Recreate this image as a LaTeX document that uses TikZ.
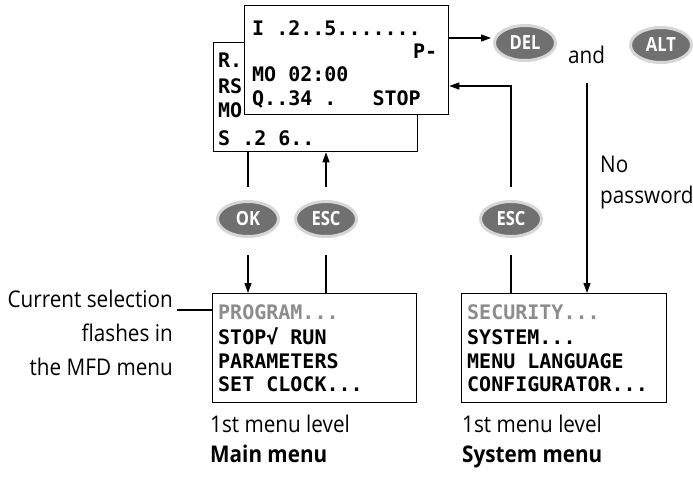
\documentclass[tikz,border=0pt]{standalone}
\usepackage{fontspec}
\setmainfont[FakeStretch=0.9]{Open Sans}
\newfontfamily\keyfont[FakeStretch=0.85]{Open Sans}
\newfontfamily\lcdfont{DejaVu Sans Mono}
\usetikzlibrary{arrows.meta,shapes.geometric}
\definecolor{keydark}{RGB}{112,112,112}
\definecolor{keyrim}{RGB}{214,214,214}
\definecolor{dimlcd}{RGB}{140,140,140}
\newcommand\lsp{\phantom{0}}
\begin{document}
\begin{tikzpicture}[x=1pt,y=-1pt,
  lcdbox/.style={draw=black, line width=1.3pt, fill=white, rectangle, anchor=north west,
    minimum width=204pt, minimum height=109pt, inner sep=0pt},
  lcdtext/.style={anchor=base west, inner sep=0pt, font=\lcdfont\fontsize{20}{24}\selectfont\bfseries},
  dimtext/.style={lcdtext, text=dimlcd},
  keybtn/.style={ellipse, fill=keydark, draw=keyrim, line width=3pt, minimum width=61pt,
    minimum height=35pt, inner sep=0pt, text=white, font=\keyfont\fontsize{19.5}{19.5}\selectfont\bfseries},
  sanstext/.style={inner sep=0pt, font=\fontsize{23}{31}\selectfont},
  conn/.style={line width=1.2pt},
  arr/.style={conn, -{Triangle[length=10pt,width=7pt]}}
]
\useasboundingbox (0,0) rectangle (693,480);

% back status display
\node[lcdbox] (back) at (213,42) {};
\node[lcdtext] (b1) at (218,67.5) {R.};
\node[lcdtext] (b2) at (218,93.5) {RS};
\node[lcdtext] (b3) at (218,117.5) {MO};
\node[lcdtext] (b4) at (218,145) {S\lsp.2\lsp6..};

% front status display
\node[lcdbox] (front) at (244,5) {};
\node[lcdtext] (f1) at (252,35.5) {I\lsp.2..5.......};
\node[lcdtext] (f2) at (413,58) {P-};
\node[lcdtext] (f3) at (252,81.5) {MO\lsp02:00};
\node[lcdtext] (f4) at (252,105) {Q..34\lsp.\lsp\lsp\lsp STOP};

% main menu
\node[lcdbox] (main) at (212,293) {};
\node[dimtext] (m1) at (218,319.5) {PROGRAM...};
\node[lcdtext] (m2) at (218,344.5) {STOP√\lsp RUN};
\node[lcdtext] (m3) at (218,368.5) {PARAMETERS};
\node[lcdtext] (m4) at (218,391.5) {SET\lsp CLOCK...};

% system menu
\node[lcdbox, minimum width=205pt] (sys) at (461,293) {};
\node[dimtext] (s1) at (467,319.5) {SECURITY...};
\node[lcdtext] (s2) at (467,344.5) {SYSTEM...};
\node[lcdtext] (s3) at (467,368.5) {MENU\lsp LANGUAGE};
\node[lcdtext] (s4) at (467,391.5) {CONFIGURATOR...};

% keys
\node[keybtn] (ok) at (248,219) {OK};
\node[keybtn] (esc) at (326,219) {ESC};
\node[keybtn] (esc2) at (511,219) {ESC};
\node[keybtn] (del) at (525,43) {DEL};
\node[keybtn] (alt) at (661,45) {ALT};

% texts
\node[sanstext, anchor=base west] (andtxt) at (568,63) {and};
\node[sanstext, anchor=base west] (no) at (600,172) {No};
\node[sanstext, anchor=base west] (pw) at (600,203) {password};
\node[sanstext, anchor=base east] (c1) at (173,307) {Current selection};
\node[sanstext, anchor=base east] (c2) at (173,341) {flashes in};
\node[sanstext, anchor=base east] (c3) at (173,375) {the MFD menu};
\node[sanstext, anchor=base west] (ml1) at (210,432) {1st menu level};
\node[sanstext, anchor=base west, font=\fontsize{23}{31}\selectfont\bfseries] (ml2) at (210,462) {Main menu};
\node[sanstext, anchor=base west] (sl1) at (462,432) {1st menu level};
\node[sanstext, anchor=base west, font=\fontsize{23}{31}\selectfont\bfseries] (sl2) at (462,462) {System menu};

% connectors
\draw[conn, shorten >=13pt] (back.south -| ok) -- (ok.north);
\draw[arr, shorten <=17pt] (ok.south) -- (ok.south |- main.north);
\draw[conn, shorten <=17pt] (esc.south) -- (esc.south |- main.north);
\draw[arr, shorten <=13pt] (esc.north) -- (esc.north |- back.south);
\draw[conn, shorten <=17pt] (esc2.south) -- (esc2.south |- sys.north);
\coordinate (bend) at (511,86);
\draw[arr, shorten <=13pt] (esc2.north) -- (bend) -- (bend -| front.east);
\coordinate (fo) at (448,38);
\draw[arr, shorten >=2pt] (fo) -- (fo -| del.west);
\coordinate (andline) at (587,83);
\draw[arr] (andline) -- (andline |- sys.north);
\coordinate (cs) at (177,310);
\draw[conn] (cs) -- (cs -| main.west);
\end{tikzpicture}
\end{document}
